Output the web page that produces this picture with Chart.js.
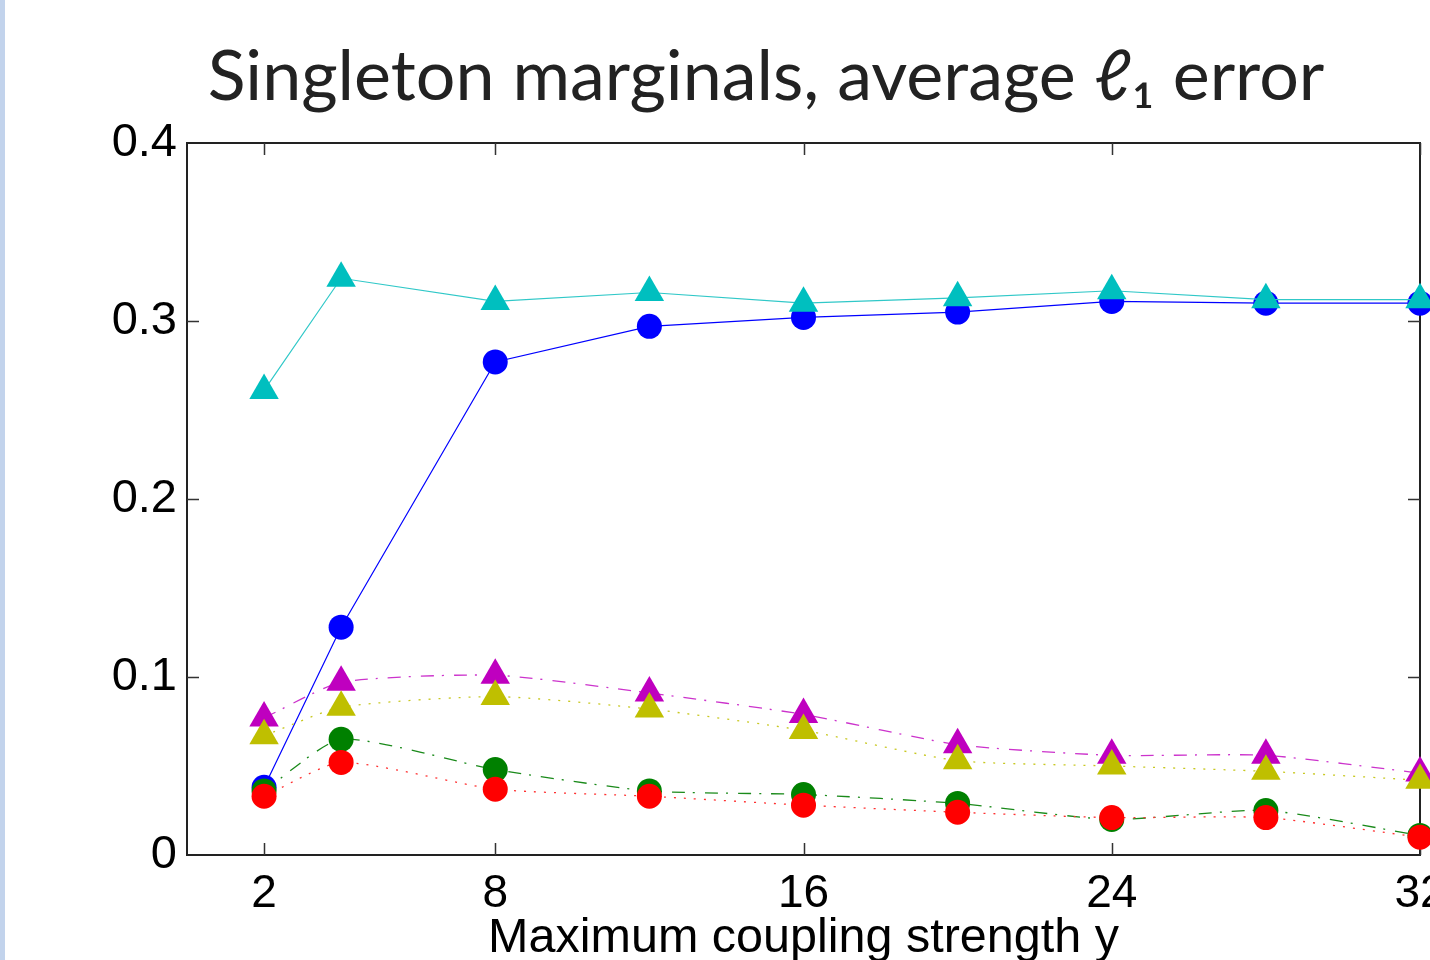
<!DOCTYPE html>
<html>
<head>
<meta charset="utf-8">
<script src="https://cdn.jsdelivr.net/npm/chart.js@4.4.1/dist/chart.umd.min.js"></script>
<style>
html, body { margin: 0; padding: 0; background: #fff; overflow: hidden; }
#wrap { position: relative; width: 1430px; height: 960px; overflow: hidden; }
#strip { position: absolute; left: 0; top: 0; width: 5px; height: 960px; background: #c2d3ec; z-index: 2; }
</style>
</head>
<body>
<div id="wrap">
  <div id="strip"></div>
  <canvas id="myChart" width="1532" height="1000"></canvas>
</div>
<script>
// coupling strengths on the x axis
const xValues = [2, 4, 8, 12, 16, 20, 24, 28, 32];
const xTicks = [2, 8, 16, 24, 32];

// average l1 error, one array per method
const cyanTri    = [0.261, 0.324, 0.311, 0.316, 0.310, 0.313, 0.317, 0.312, 0.312];
const blueCirc   = [0.038, 0.128, 0.277, 0.297, 0.302, 0.305, 0.311, 0.310, 0.310];
const magentaTri = [0.077, 0.097, 0.101, 0.091, 0.079, 0.062, 0.056, 0.056, 0.046];
const yellowTri  = [0.067, 0.083, 0.089, 0.082, 0.070, 0.053, 0.050, 0.047, 0.042];
const greenCirc  = [0.036, 0.065, 0.048, 0.036, 0.034, 0.029, 0.020, 0.025, 0.011];
const redCirc    = [0.033, 0.052, 0.037, 0.033, 0.028, 0.024, 0.021, 0.021, 0.010];

function pts(arr) {
    return arr.map((v, i) => ({ x: xValues[i], y: v }));
}

// box around the plot with inward ticks on all four sides
const boxPlugin = {
    id: 'boxTicks',
    beforeDatasetsDraw(chart) {
        const ctx = chart.ctx;
        const a = chart.chartArea;
        const xs = chart.scales.x, ys = chart.scales.y;
        ctx.save();
        ctx.strokeStyle = '#222';
        ctx.lineWidth = 2;
        ctx.strokeRect(a.left, a.top, a.right - a.left, a.bottom - a.top);
        ctx.lineWidth = 1.5;
        ctx.strokeStyle = '#333';
        const len = 12;
        ctx.beginPath();
        xTicks.forEach(t => {
            const px = Math.round(xs.getPixelForValue(t)) + 0.5;
            ctx.moveTo(px, a.bottom); ctx.lineTo(px, a.bottom - len);
            ctx.moveTo(px, a.top); ctx.lineTo(px, a.top + len);
        });
        [0.1, 0.2, 0.3].forEach(t => {
            const py = Math.round(ys.getPixelForValue(t)) + 0.5;
            ctx.moveTo(a.left, py); ctx.lineTo(a.left + len, py);
            ctx.moveTo(a.right, py); ctx.lineTo(a.right - len, py);
        });
        ctx.stroke();
        ctx.restore();
    }
};

const dashDot = [13, 8, 2, 10];
const dotted = [2, 8];

const datasets = [
    { data: pts(blueCirc), borderColor: '#0000ff', backgroundColor: '#0000ff', pointStyle: 'circle', pointRadius: 12.5, borderWidth: 1.2, tension: 0, order: 6 },
    { data: pts(greenCirc), borderColor: '#1a8a1a', backgroundColor: '#008000', pointStyle: 'circle', pointRadius: 12.5, borderWidth: 1.3, borderDash: dashDot, tension: 0.2, order: 5 },
    { data: pts(redCirc), borderColor: '#ff3030', backgroundColor: '#ff0000', pointStyle: 'circle', pointRadius: 12.5, borderWidth: 1.3, borderDash: dotted, tension: 0.2, order: 4 },
    { data: pts(magentaTri), borderColor: '#cc33cc', backgroundColor: '#bf00bf', pointStyle: 'triangle', pointRadius: 17, borderWidth: 1.3, borderDash: dashDot, tension: 0.2, order: 3 },
    { data: pts(yellowTri), borderColor: '#c8c820', backgroundColor: '#bfbf00', pointStyle: 'triangle', pointRadius: 17, borderWidth: 1.3, borderDash: dotted, tension: 0.2, order: 2 },
    { data: pts(cyanTri), borderColor: '#30c8c8', backgroundColor: '#00bfbf', pointStyle: 'triangle', pointRadius: 17, borderWidth: 1.2, tension: 0, order: 1 }
];
datasets.forEach(d => {
    d.pointBorderWidth = 0;
    d.pointHoverRadius = d.pointRadius;
    d.clip = false;
    d.fill = false;
});

const config = {
    type: 'line',
    data: { datasets: datasets },
    options: {
        responsive: false,
        animation: false,
        layout: { padding: { left: 112, right: 112, top: 0, bottom: 0 } },
        plugins: {
            legend: { display: false },
            tooltip: { enabled: false },
            title: {
                display: true,
                text: 'Singleton marginals, average \u2113\u2081 error',
                color: '#222',
                font: { family: 'Lato', size: 70, weight: 'normal' },
                padding: { top: 35, bottom: 24 }
            }
        },
        scales: {
            x: {
                type: 'linear',
                min: 0,
                max: 32,
                afterBuildTicks: function(scale) {
                    scale.ticks = xTicks.map(v => ({ value: v }));
                },
                afterFit: function(scale) { scale.height = 145; },
                grid: { display: false },
                border: { display: false },
                ticks: {
                    color: '#000',
                    font: { family: 'Liberation Sans', size: 46 },
                    padding: 4,
                    maxRotation: 0
                },
                title: {
                    display: true,
                    text: 'Maximum coupling strength y',
                    color: '#000',
                    font: { family: 'Liberation Sans', size: 48.5 },
                    padding: { top: 0, bottom: 32 }
                }
            },
            y: {
                min: 0,
                max: 0.4,
                afterFit: function(scale) { scale.width = 75; },
                grid: { display: false },
                border: { display: false },
                ticks: {
                    stepSize: 0.1,
                    color: '#000',
                    font: { family: 'Liberation Sans', size: 47 },
                    padding: 2,
                    callback: function(v) { return v === 0 ? '0' : v.toFixed(1); }
                }
            }
        }
    },
    plugins: [boxPlugin]
};

const ctx = document.getElementById('myChart').getContext('2d');
new Chart(ctx, config);
</script>
</body>
</html>
